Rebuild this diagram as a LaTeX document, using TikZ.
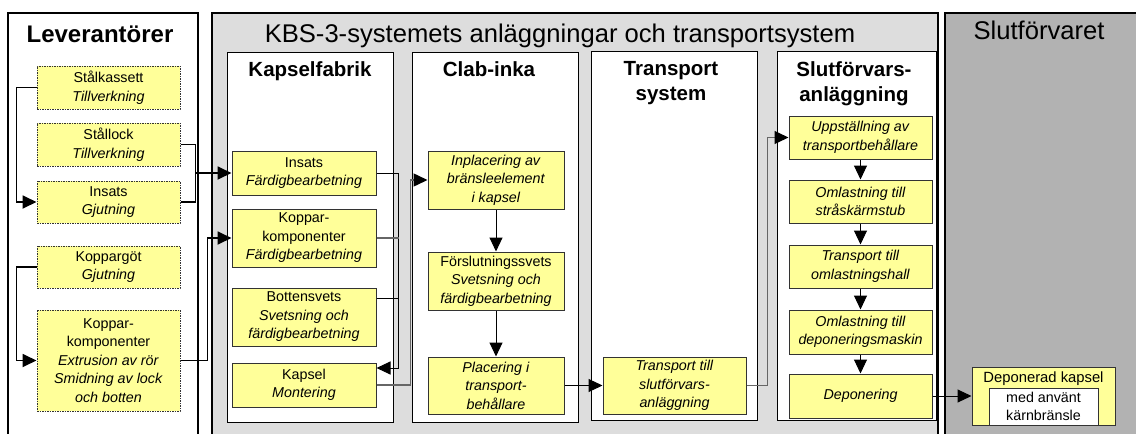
\documentclass[tikz,border=0pt]{standalone}
\usepackage{fontspec}
\setmainfont{Liberation Sans}
\usetikzlibrary{arrows.meta}
\definecolor{boxyellow}{HTML}{FFFF99}
\definecolor{panelgray}{HTML}{DDDDDD}
\definecolor{darkpanel}{HTML}{B2B2B2}
\begin{document}
\begin{tikzpicture}[x=1pt,y=-1pt,
  ybox/.style={draw=black!80, fill=boxyellow, line width=1pt, inner sep=0pt, align=center,
    font=\fontsize{14.3}{18.5}\selectfont},
  lbox/.style={ybox, dash pattern=on 1.5pt off 1pt},
  arr/.style={-{Triangle[length=14pt,width=13pt,color=black]}},
  lev/.style={line width=1.8pt, black},
  conn/.style={line width=1pt, black},
  conng/.style={line width=1.5pt, black!60},
  bigtitle/.style={anchor=base, inner sep=0pt, font=\fontsize{25.6}{30}\selectfont},
  subtitle/.style={inner sep=0pt, align=center, font=\fontsize{20.5}{25}\selectfont\bfseries},
  panel/.style={fill=white, draw=black, line width=1pt}
]
\useasboundingbox (0,0) rectangle (1136,434);
\begin{scope}
\clip (0,0) rectangle (1136,434);
\fill[white] (0,0) rectangle (1136,434);
\draw[line width=2pt, fill=white] (8,13) rectangle (198,450);
\draw[line width=1.2pt, fill=panelgray] (212,13) rectangle (938,450);
\draw[line width=1.2pt, fill=darkpanel] (945,13) rectangle (1150,450);
\draw[panel] (227,52) rectangle (393,422);
\draw[panel] (412,52) rectangle (578,422);
\draw[panel] (591,51) rectangle (757,420);
\draw[panel] (777,51) rectangle (936,420);
\end{scope}

% titles
\node[bigtitle, font=\fontsize{24}{28}\selectfont\bfseries] (tLev) at (100,42) {Leverantörer};
\node[bigtitle] (tKBS) at (560,42) {KBS-3-systemets anläggningar och transportsystem};
\node[bigtitle] (tSlut) at (1039,39) {Slutförvaret};
\node[subtitle, anchor=base] (tKap) at (310,76) {Kapselfabrik};
\node[subtitle, anchor=base] (tClab) at (489,76) {Clab-inka};
\node[subtitle, anchor=north] (tTra) at (671,61) {Transport\\system};
\node[subtitle, anchor=north] (tSfa) at (854,61) {Slutförvars-\\anläggning};

% Leverantörer boxes
\node[lbox, minimum width=143, minimum height=43] (L1) at (108.5,87.5) {Stålkassett\\\textit{Tillverkning}};
\node[lbox, minimum width=143, minimum height=43] (L2) at (108.5,144.5) {Stållock\\\textit{Tillverkning}};
\node[lbox, minimum width=143, minimum height=42] (L3) at (108.5,202) {Insats\\\textit{Gjutning}};
\node[lbox, minimum width=143, minimum height=42] (L4) at (108.5,267) {Koppargöt\\\textit{Gjutning}};
\node[lbox, minimum width=143, minimum height=101] (L5) at (108.5,360.5) {Koppar-\\komponenter\\\textit{Extrusion av rör}\\\textit{Smidning av lock}\\\textit{och botten}};

% Kapselfabrik boxes
\node[ybox, minimum width=144, minimum height=44] (K1) at (304,173) {Insats\\\textit{Färdigbearbetning}};
\node[ybox, minimum width=144, minimum height=58] (K2) at (304,238) {Koppar-\\komponenter\\\textit{Färdigbearbetning}};
\node[ybox, minimum width=144, minimum height=58] (K3) at (304,317) {Bottensvets\\\textit{Svetsning och}\\\textit{färdigbearbetning}};
\node[ybox, minimum width=144, minimum height=44] (K4) at (304,385) {Kapsel\\\textit{Montering}};

% Clab-inka boxes
\node[ybox, minimum width=136, minimum height=58] (C1) at (496,180) {\textit{Inplacering av}\\\textit{bränsleelement}\\\textit{i kapsel}};
\node[ybox, minimum width=136, minimum height=58] (C2) at (496,281) {Förslutningssvets\\\textit{Svetsning och}\\\textit{färdigbearbetning}};
\node[ybox, minimum width=136, minimum height=57] (C3) at (496,385.5) {\textit{Placering i}\\\textit{transport-}\\\textit{behållare}};

% Transport system
\node[ybox, minimum width=143, minimum height=57] (T1) at (674.5,385.5) {\textit{Transport till}\\\textit{slutförvars-}\\\textit{anläggning}};

% Slutförvarsanläggning
\node[ybox, minimum width=143, minimum height=43] (S1) at (860.5,137.5) {\textit{Uppställning av}\\\textit{transportbehållare}};
\node[ybox, minimum width=143, minimum height=43] (S2) at (860.5,201.5) {\textit{Omlastning till}\\\textit{stråskärmstub}};
\node[ybox, minimum width=143, minimum height=43] (S3) at (860.5,266.5) {\textit{Transport till}\\\textit{omlastningshall}};
\node[ybox, minimum width=143, minimum height=44] (S4) at (860.5,332) {\textit{Omlastning till}\\\textit{deponeringsmaskin}};
\node[ybox, minimum width=143, minimum height=44] (S5) at (860.5,396) {\textit{Deponering}};

% Slutförvaret
\node[ybox, minimum width=143, minimum height=58] (D) at (1043.5,396) {};
\node[inner sep=0pt, font=\fontsize{14.8}{18.5}\selectfont] (Dt) at (1043.5,379) {Deponerad kapsel};
\node[draw=black!80, fill=white, line width=1pt, inner sep=0pt, align=center, minimum width=109, minimum height=37,
  font=\fontsize{14.3}{18}\selectfont] (Dw) at (1043.5,406.5) {med använt\\kärnbränsle};

% connectors: Leverantörer
\draw[lev, arr] (L1.west) -- ++(-20,0) |- (L3.west);
\draw[lev] (L2.east) -- ++(15,0) |- (L3.east);
\coordinate (j1) at (195,173);
\draw[lev, arr] (j1) -- (K1.west);
\draw[lev, arr] (L4.west) -- ++(-20,0) |- (L5.west);
\draw[lev, arr] (L5.east) -- ++(27,0) |- (K2.west);

% Kapselfabrik
\draw[conn, arr] (K1.east) -- ++(22,0) |- ([yshift=17pt]K4.east);
\draw[conng] (K2.east) -- ++(22,0);
\draw[conn] ([yshift=19pt]K3.east) -- ++(22,0);
\draw[conng, arr] (K4.east) -- ++(34,0) |- (C1.west);

% Clab
\draw[conn, arr] (C1) -- (C2);
\draw[conn, arr] (C2) -- (C3);
\draw[conn, arr] (C3) -- (T1);
\draw[conng, arr] (T1.east) -- ++(21,0) |- (S1.west);

% Slutförvarsanläggning
\draw[conn, arr] (S1) -- (S2);
\draw[conn, arr] (S2) -- (S3);
\draw[conn, arr] (S3) -- (S4);
\draw[conn, arr] (S4) -- (S5);
\draw[conn, arr] (S5) -- (D);
\end{tikzpicture}
\end{document}
